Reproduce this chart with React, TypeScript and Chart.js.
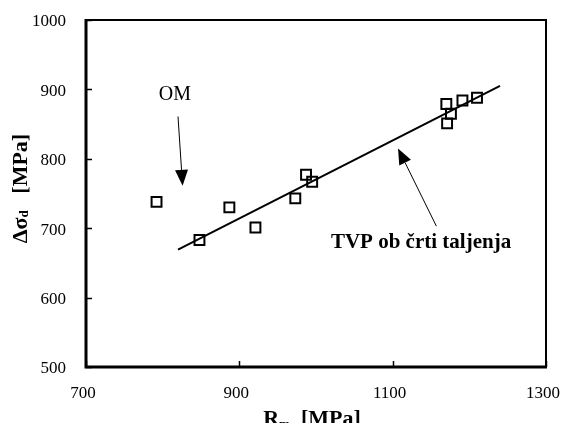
import React, { useEffect, useRef } from "react";
import { Chart, registerables } from "chart.js";

Chart.register(...registerables);

// ---- data ----
const rmValues = [792, 848, 887, 921, 973, 987, 995, 1170, 1171, 1176, 1191, 1210];
const dSigmaValues = [738, 683, 730, 701, 743, 777, 767, 879, 851, 865, 884, 888];
const fitRm = [820, 1240];
const fitDSigma = [669, 905];
const xTicks = [700, 900, 1100, 1300];
const yTicks = [500, 600, 700, 800, 900, 1000];

const omLabel = { text: "OM", x: 816, y: 892 };
const omArrow = { fromX: 820, fromY: 861, toX: 826, toY: 761 };
const tvpLabel = { text: "TVP ob črti taljenja", x: 1137, y: 679 };
const tvpArrow = { fromX: 1157, fromY: 703, toX: 1107, toY: 815 };

const SERIF = '"Liberation Serif", "Times New Roman", serif';

type Part = { text: string; font: string; dy: number };

function drawParts(ctx: CanvasRenderingContext2D, parts: Part[]) {
  let total = 0;
  const widths = parts.map((p) => {
    ctx.font = p.font;
    const w = ctx.measureText(p.text).width;
    total += w;
    return w;
  });
  let x = -total / 2;
  ctx.textAlign = "left";
  ctx.textBaseline = "alphabetic";
  parts.forEach((p, i) => {
    ctx.font = p.font;
    ctx.fillText(p.text, x, p.dy);
    x += widths[i];
  });
}

function drawArrow(ctx: CanvasRenderingContext2D, x1: number, y1: number, x2: number, y2: number) {
  const ang = Math.atan2(y2 - y1, x2 - x1);
  const headLen = 16;
  const headHalf = 6.5;
  const bx = x2 - headLen * Math.cos(ang);
  const by = y2 - headLen * Math.sin(ang);
  ctx.lineWidth = 1;
  ctx.beginPath();
  ctx.moveTo(x1, y1);
  ctx.lineTo(bx, by);
  ctx.stroke();
  ctx.beginPath();
  ctx.moveTo(x2, y2);
  ctx.lineTo(bx + headHalf * Math.sin(ang), by - headHalf * Math.cos(ang));
  ctx.lineTo(bx - headHalf * Math.sin(ang), by + headHalf * Math.cos(ang));
  ctx.closePath();
  ctx.fill();
}

const decorPlugin = {
  id: "decor",
  afterDraw(chart: any) {
    const { ctx, chartArea: a, scales } = chart;
    const xs = scales.x;
    const ys = scales.y;
    ctx.save();
    ctx.strokeStyle = "#000";
    ctx.fillStyle = "#000";
    // frame
    ctx.lineWidth = 2;
    ctx.beginPath();
    ctx.moveTo(a.left, a.top);
    ctx.lineTo(a.right, a.top);
    ctx.lineTo(a.right, a.bottom);
    ctx.stroke();
    ctx.lineWidth = 3;
    ctx.beginPath();
    ctx.moveTo(a.left, a.top - 1);
    ctx.lineTo(a.left, a.bottom);
    ctx.lineTo(a.right + 1, a.bottom);
    ctx.stroke();
    // inward ticks
    ctx.lineWidth = 1.5;
    xTicks.forEach((v) => {
      const px = Math.round(xs.getPixelForValue(v)) + 0.5;
      ctx.beginPath();
      ctx.moveTo(px, a.bottom);
      ctx.lineTo(px, a.bottom - 6);
      ctx.stroke();
    });
    yTicks.forEach((v) => {
      const py = Math.round(ys.getPixelForValue(v)) + 0.5;
      ctx.beginPath();
      ctx.moveTo(a.left, py);
      ctx.lineTo(a.left + 6, py);
      ctx.stroke();
    });
    // annotations
    ctx.textAlign = "center";
    ctx.textBaseline = "middle";
    ctx.font = `20px ${SERIF}`;
    ctx.fillText(omLabel.text, xs.getPixelForValue(omLabel.x), ys.getPixelForValue(omLabel.y));
    ctx.font = `bold 21px ${SERIF}`;
    ctx.fillText(tvpLabel.text, xs.getPixelForValue(tvpLabel.x), ys.getPixelForValue(tvpLabel.y));
    drawArrow(
      ctx,
      xs.getPixelForValue(omArrow.fromX),
      ys.getPixelForValue(omArrow.fromY),
      xs.getPixelForValue(omArrow.toX),
      ys.getPixelForValue(omArrow.toY)
    );
    drawArrow(
      ctx,
      xs.getPixelForValue(tvpArrow.fromX),
      ys.getPixelForValue(tvpArrow.fromY),
      xs.getPixelForValue(tvpArrow.toX),
      ys.getPixelForValue(tvpArrow.toY)
    );
    // x axis title
    ctx.save();
    ctx.translate((a.left + a.right) / 2 - 4, chart.height + 2);
    drawParts(ctx, [
      { text: "R", font: `bold 22px ${SERIF}`, dy: 0 },
      { text: "m", font: `bold 13px ${SERIF}`, dy: 3 },
      { text: "  [MPa]", font: `bold 22px ${SERIF}`, dy: 0 },
    ]);
    ctx.restore();
    // y axis title
    ctx.save();
    ctx.translate(27, (a.top + a.bottom) / 2 - 5);
    ctx.rotate(-Math.PI / 2);
    drawParts(ctx, [
      { text: "Δσ", font: `bold 22px ${SERIF}`, dy: 0 },
      { text: "d", font: `bold 13px ${SERIF}`, dy: 1 },
      { text: "   [MPa]", font: `bold 22px ${SERIF}`, dy: 0 },
    ]);
    ctx.restore();
    ctx.restore();
  },
};

export default function App() {
  const canvasRef = useRef<HTMLCanvasElement | null>(null);

  useEffect(() => {
    document.body.style.margin = "0";
    const canvas = canvasRef.current;
    if (!canvas) return;
    const tickFont = { family: SERIF, size: 17 };
    const chart = new Chart(canvas, {
      type: "scatter",
      data: {
        datasets: [
          {
            data: rmValues.map((x, i) => ({ x, y: dSigmaValues[i] })),
            pointStyle: "rect",
            pointRadius: 7,
            pointHoverRadius: 7,
            borderColor: "#000",
            backgroundColor: "rgba(0,0,0,0)",
            borderWidth: 2,
            showLine: false,
          },
          {
            data: fitRm.map((x, i) => ({ x, y: fitDSigma[i] })),
            showLine: true,
            pointRadius: 0,
            borderColor: "#000",
            borderWidth: 2,
            fill: false,
          },
        ],
      },
      options: {
        animation: false,
        responsive: false,
        devicePixelRatio: 1,
        layout: { padding: { top: 20, right: 15, left: 0, bottom: 0 } },
        plugins: { legend: { display: false }, tooltip: { enabled: false } },
        scales: {
          x: {
            type: "linear",
            min: 700,
            max: 1300,
            afterBuildTicks: (s: any) => {
              s.ticks = xTicks.map((v) => ({ value: v }));
            },
            afterFit: (s: any) => {
              s.height = 56;
              s.paddingLeft = 0;
              s.paddingRight = 0;
            },
            grid: { display: false, drawTicks: false },
            border: { display: false },
            ticks: {
              font: tickFont,
              color: "#000",
              padding: 16,
              labelOffset: -3,
              maxRotation: 0,
              autoSkip: false,
              callback: (v: any) => String(v),
            },
          },
          y: {
            type: "linear",
            min: 500,
            max: 1000,
            afterBuildTicks: (s: any) => {
              s.ticks = yTicks.map((v) => ({ value: v }));
            },
            afterFit: (s: any) => {
              s.width = 86;
              s.paddingTop = 0;
              s.paddingBottom = 0;
            },
            grid: { display: false, drawTicks: false },
            border: { display: false },
            ticks: {
              font: tickFont,
              color: "#000",
              padding: 20,
              labelOffset: 2,
              autoSkip: false,
              callback: (v: any) => String(v),
            },
          },
        },
      },
      plugins: [decorPlugin],
    } as any);
    return () => chart.destroy();
  }, []);

  return (
    <div style={{ width: 561, height: 423, background: "#fff" }}>
      <canvas ref={canvasRef} width={561} height={423} style={{ display: "block" }} />
    </div>
  );
}
